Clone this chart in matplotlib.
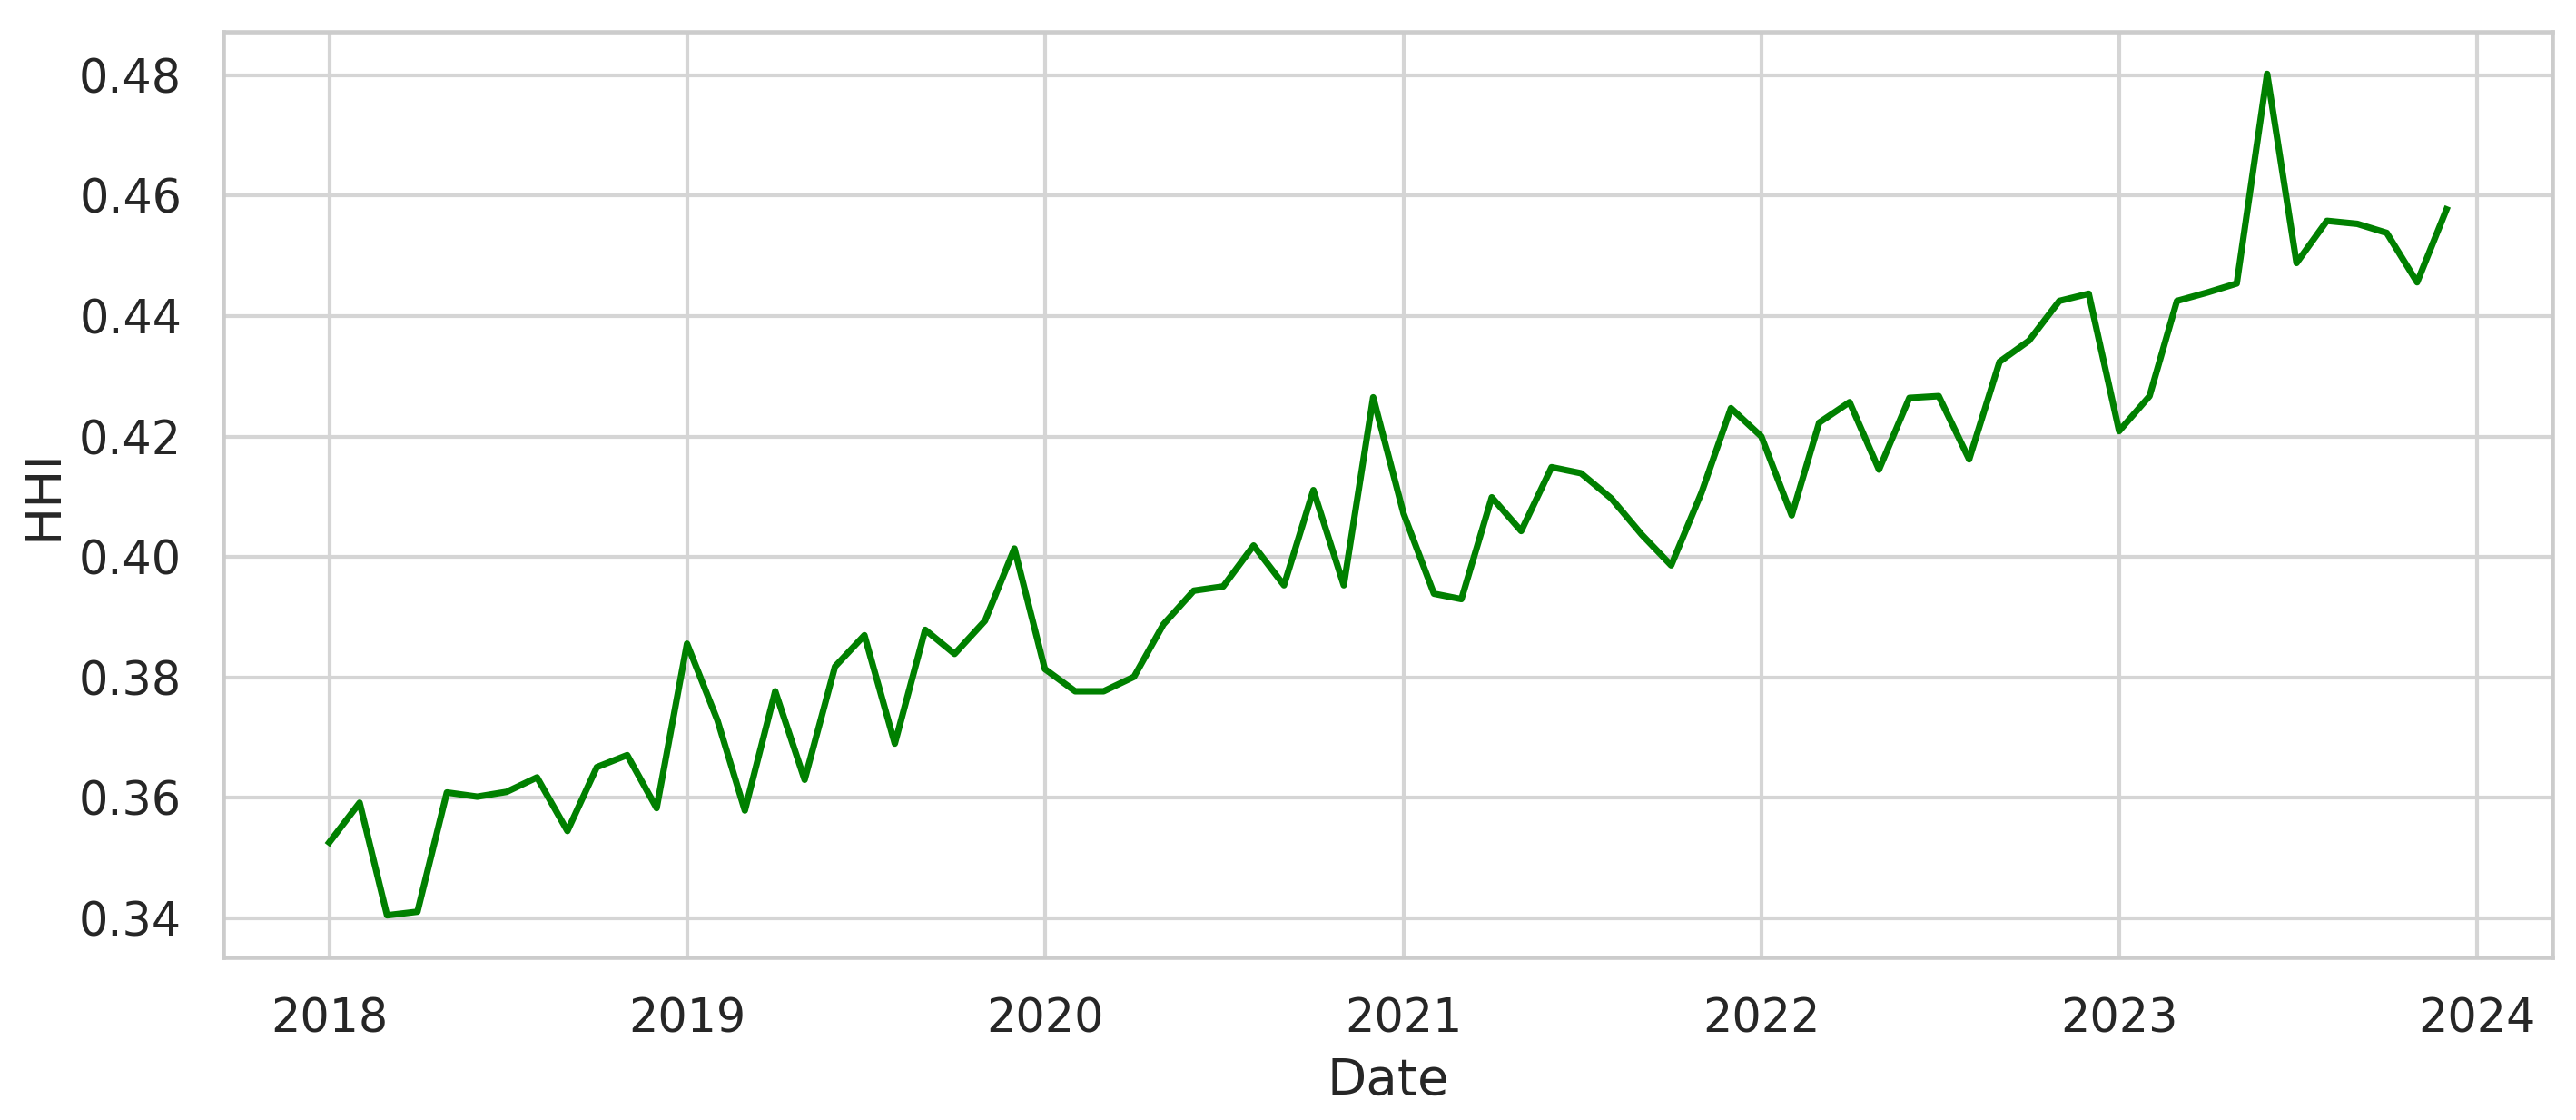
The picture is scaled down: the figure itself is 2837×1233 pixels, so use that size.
import matplotlib
matplotlib.use("Agg")
import matplotlib.pyplot as plt
import matplotlib.dates as mdates
import pandas as pd

start_month = "2018-01-01"
n_months = 72
hhi_2018 = [0.3526, 0.3592, 0.3405, 0.3411, 0.3609, 0.3602, 0.3610, 0.3634, 0.3545, 0.3651, 0.3671, 0.3583]
hhi_2019 = [0.3856, 0.3729, 0.3579, 0.3777, 0.3630, 0.3818, 0.3870, 0.3690, 0.3879, 0.3839, 0.3894, 0.4014]
hhi_2020 = [0.3814, 0.3777, 0.3777, 0.3801, 0.3888, 0.3944, 0.3951, 0.4019, 0.3953, 0.4111, 0.3953, 0.4265]
hhi_2021 = [0.4072, 0.3939, 0.3930, 0.4099, 0.4043, 0.4149, 0.4139, 0.4097, 0.4037, 0.3986, 0.4107, 0.4247]
hhi_2022 = [0.4200, 0.4069, 0.4223, 0.4257, 0.4145, 0.4264, 0.4267, 0.4162, 0.4324, 0.4359, 0.4425, 0.4437]
hhi_2023 = [0.4209, 0.4267, 0.4425, 0.4439, 0.4454, 0.4802, 0.4488, 0.4558, 0.4553, 0.4538, 0.4456, 0.4577]

dates = pd.date_range(start_month, periods=n_months, freq="MS")
hhi = hhi_2018 + hhi_2019 + hhi_2020 + hhi_2021 + hhi_2022 + hhi_2023

W, H, DPI = 2837, 1233, 300
fig = plt.figure(figsize=(W / DPI, H / DPI), dpi=DPI)
fig.patch.set_facecolor("white")
ax = fig.add_axes([246 / W, (H - 1054) / H, (2811 - 246) / W, (1054 - 35) / H])

text_color = "#262626"
grid_color = "#d5d5d5"
spine_color = "#cccccc"

ax.plot(dates, hhi, color="green", linewidth=1.7, zorder=3)

ax.xaxis.set_major_locator(mdates.YearLocator())
ax.xaxis.set_major_formatter(mdates.DateFormatter("%Y"))
ax.set_yticks([0.34, 0.36, 0.38, 0.40, 0.42, 0.44, 0.46, 0.48])
ax.yaxis.set_major_formatter(matplotlib.ticker.FormatStrFormatter("%.2f"))

ax.grid(True, color=grid_color, linewidth=1.0, zorder=0)
ax.set_axisbelow(True)
for s in ax.spines.values():
    s.set_color(spine_color)
    s.set_linewidth(1.1)

ax.tick_params(axis="x", length=0, pad=10.4, labelsize=12.2, labelcolor=text_color)
ax.tick_params(axis="y", length=0, pad=11.0, labelsize=12.2, labelcolor=text_color)

ax.set_xlabel("Date", fontsize=13.5, color=text_color, labelpad=3.6)
ax.set_ylabel("HHI", fontsize=13.5, color=text_color, labelpad=3.0)

fig.savefig("out.png", dpi=DPI, facecolor="white")
